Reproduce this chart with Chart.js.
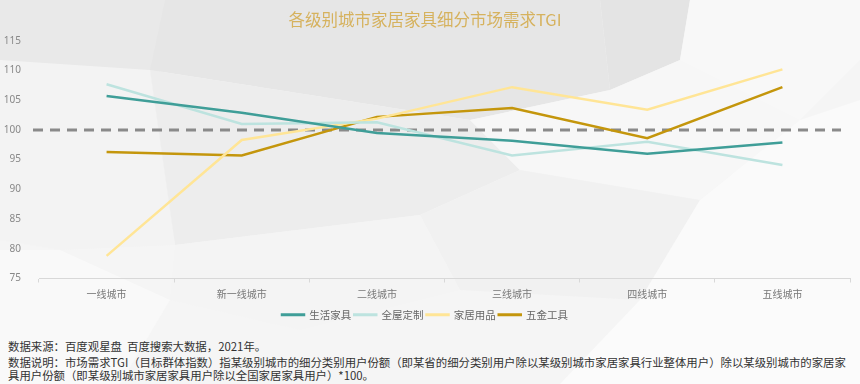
<!DOCTYPE html>
<html lang="zh-CN">
<head>
<meta charset="UTF-8">
<title>各级别城市家居家具细分市场需求TGI</title>
<script src="https://cdn.jsdelivr.net/npm/chart.js"></script>
<style>
    html, body { margin: 0; padding: 0; }
    body {
        width: 860px; height: 384px; overflow: hidden; position: relative;
        font-family: 'Noto Sans CJK SC', 'Noto Sans', sans-serif;
        background: #f6f6f6;
    }
    /* 背景的多边形 */
    #bg { position: absolute; left: 0; top: 0; }
    #wrap { position: absolute; left: 0; top: 0; width: 860px; height: 335px; }
    .note {
        position: absolute; left: 8px; color: #333; font-size: 11.4px; line-height: 13px;
        white-space: nowrap;
    }
</style>
</head>
<body>
<svg id="bg" width="860" height="384">
    <rect width="860" height="384" fill="#f5f5f5"/>
    <polygon points="0,0 520,0 500,60 0,60" fill="#ececec"/>
    <polygon points="0,0 165,0 160,75 65,80 0,60" fill="#e9e9e9"/>
    <polygon points="165,0 600,0 610,90 470,120 150,70" fill="#e6e6e6"/>
    <polygon points="150,70 470,120 520,170 420,215 175,245 145,80" fill="#ededed"/>
    <polygon points="0,60 150,70 175,245 60,250 0,240" fill="#f3f3f3"/>
    <polygon points="600,0 690,0 680,60 610,90" fill="#e4e4e4"/>
    <polygon points="690,0 860,0 860,60 800,120 680,60" fill="#f8f8f8"/>
    <polygon points="470,120 610,90 680,60 800,120 700,200 520,170" fill="#f7f7f7"/>
    <polygon points="420,215 520,170 700,200 640,300 460,290" fill="#f1f1f1"/>
    <polygon points="175,245 420,215 460,290 300,330 170,300" fill="#f4f4f4"/>
    <polygon points="700,200 800,120 860,100 860,300 640,300" fill="#fafafa"/>
    <polygon points="0,250 60,250 170,300 120,384 0,384" fill="#f9f9f9"/>
    <polygon points="640,300 860,300 860,384 560,384" fill="#fbfbfb"/>
</svg>
<div id="wrap"><canvas id="tgi"></canvas></div>
<div class="note" style="top:340px;">数据来源：百度观星盘&nbsp;&nbsp;百度搜索大数据，2021年。</div>
<div class="note" style="top:356px;">数据说明：市场需求TGI（目标群体指数）指某级别城市的细分类别用户份额（即某省的细分类别用户除以某级别城市家居家具行业整体用户）除以某级别城市的家居家<br>具用户份额（即某级别城市家居家具用户除以全国家居家具用户）*100。</div>

<script>
// 数据
const cities = ['一线城市', '新一线城市', '二线城市', '三线城市', '四线城市', '五线城市'];
const furniture = [105.7, 102.9, 99.5, 98.2, 96.0, 97.9];   // 生活家具
const custom = [107.7, 101.0, 101.3, 95.7, 98.0, 94.1];      // 全屋定制
const household = [78.8, 98.3, 101.9, 107.2, 103.4, 110.2];  // 家居用品
const hardware = [96.3, 95.7, 102.2, 103.7, 98.6, 107.2];    // 五金工具
const yTicks = [75, 80, 85, 90, 95, 100, 105, 110, 115];
const baseline = 100;

// 100 基准虚线
const baseLine = {
    id: 'baseLine',
    beforeDatasetsDraw(chart) {
        const { ctx, chartArea, scales } = chart;
        const y = scales.y.getPixelForValue(baseline);
        ctx.save();
        ctx.strokeStyle = '#8a8a8a';
        ctx.lineWidth = 3;
        ctx.setLineDash([10, 7]);
        ctx.beginPath();
        ctx.moveTo(chartArea.left - 6, y);
        ctx.lineTo(chartArea.right - 9, y);
        ctx.stroke();
        ctx.restore();
    }
};

const mk = (label, data, color) => ({
    label, data,
    borderColor: color, backgroundColor: color,
    borderWidth: 2.5, pointRadius: 0, tension: 0
});

new Chart(document.getElementById('tgi'), {
    type: 'line',
    data: {
        labels: cities,
        datasets: [
            mk('生活家具', furniture, '#3f9e98'),
            mk('全屋定制', custom, '#bde3df'),
            mk('家居用品', household, '#ffe596'),
            mk('五金工具', hardware, '#c4960c')
        ]
    },
    options: {
        responsive: true,
        maintainAspectRatio: false,
        animation: false,
        layout: { padding: { left: 0, right: 10, top: 0, bottom: 5 } },
        plugins: {
            title: {
                display: true,
                text: '各级别城市家居家具细分市场需求TGI',
                color: '#d6b25e',
                font: { size: 16.5, family: 'Noto Sans CJK SC', weight: 'normal' },
                padding: { top: 10, bottom: 11 }
            },
            legend: {
                position: 'bottom',
                labels: {
                    boxWidth: 22, boxHeight: 0.5,
                    color: '#666',
                    font: { size: 10.5, family: 'Noto Sans CJK SC' },
                    padding: 3
                }
            },
            tooltip: { enabled: false }
        },
        scales: {
            x: {
                offset: true,
                grid: { offset: true, drawOnChartArea: false, tickLength: 4, color: '#d8d8d8' },
                border: { color: '#d8d8d8' },
                ticks: { color: '#777', font: { size: 10, family: 'Noto Sans CJK SC' }, padding: 6 }
            },
            y: {
                min: 75, max: 115,
                afterBuildTicks(axis) { axis.ticks = yTicks.map(v => ({ value: v })); },
                afterFit(axis) { axis.width = 39; },
                grid: { display: false },
                border: { display: false },
                ticks: { color: '#888', font: { size: 10, family: 'Noto Sans' }, padding: 10 }
            }
        }
    },
    plugins: [baseLine]
});
</script>
</body>
</html>
